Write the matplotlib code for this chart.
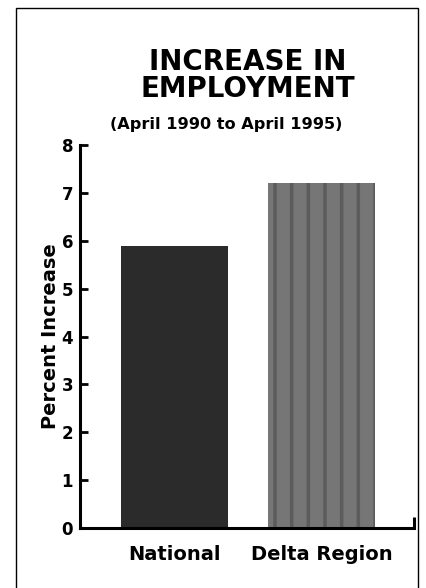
import matplotlib.pyplot as plt
from matplotlib.patches import Rectangle

# chart data
categories = ["National", "Delta Region"]
values = [5.9, 7.2]
yticks = [0, 1, 2, 3, 4, 5, 6, 7, 8]
bar_colors = ["#2b2b2b", "#767676"]

plt.rcParams['font.family'] = ['DejaVu Sans']
plt.rcParams['font.weight'] = 'bold'
plt.rcParams['hatch.linewidth'] = 2.5

fig = plt.figure(figsize=(4.27, 5.88), dpi=100)
W, H = 427, 588

# axes placed in pixel terms
left, right, bottom, top = 80, 414, 528, 145
ax = fig.add_axes([left / W, 1 - bottom / H, (right - left) / W, (bottom - top) / H])

x = list(range(len(categories)))
bars = ax.bar(x, values, width=0.73, color=bar_colors, edgecolor='none')
# vertical streaky texture on the Delta bar, roughly imitated with a hatch
bars[1].set_hatch('|')
bars[1].set_edgecolor('#5c5c5c')
bars[1].set_linewidth(0)

ax.set_xlim(-0.643, 1.629)
ax.set_ylim(0, 8)
ax.set_yticks(yticks)
ax.set_yticklabels([str(t) for t in yticks], fontsize=12, fontweight='bold')
ax.set_xticks(x)
ax.set_xticklabels(categories, fontsize=14, fontweight='bold')
ax.tick_params(axis='y', direction='in', length=6, width=2, pad=5)
ax.tick_params(axis='x', length=0, pad=12)

for s in ['top', 'right']:
    ax.spines[s].set_visible(False)
ax.spines['left'].set_linewidth(2.2)
ax.spines['bottom'].set_linewidth(2.2)

# small upward tick at the right end of the x axis
ax.plot([1.629, 1.629], [0, 0.22], color='black', lw=2.2, clip_on=False, solid_capstyle='butt')

ax.set_ylabel("Percent Increase", fontsize=14, fontweight='bold', labelpad=1)

# titles
fig.text(248 / W, 1 - 62 / H, "INCREASE IN", ha='center', va='center', fontsize=20, fontweight='bold')
fig.text(248 / W, 1 - 89 / H, "EMPLOYMENT", ha='center', va='center', fontsize=20, fontweight='bold')
fig.text(226 / W, 1 - 124 / H, "(April 1990 to April 1995)", ha='center', va='center', fontsize=11.6, fontweight='bold')

# outer frame
fig.patches.append(Rectangle((16 / W, -0.01), (418 - 16) / W, 1.01 - 8 / H,
                             transform=fig.transFigure, fill=False, lw=1.0, edgecolor='black'))

fig.savefig("out.png", dpi=100)
